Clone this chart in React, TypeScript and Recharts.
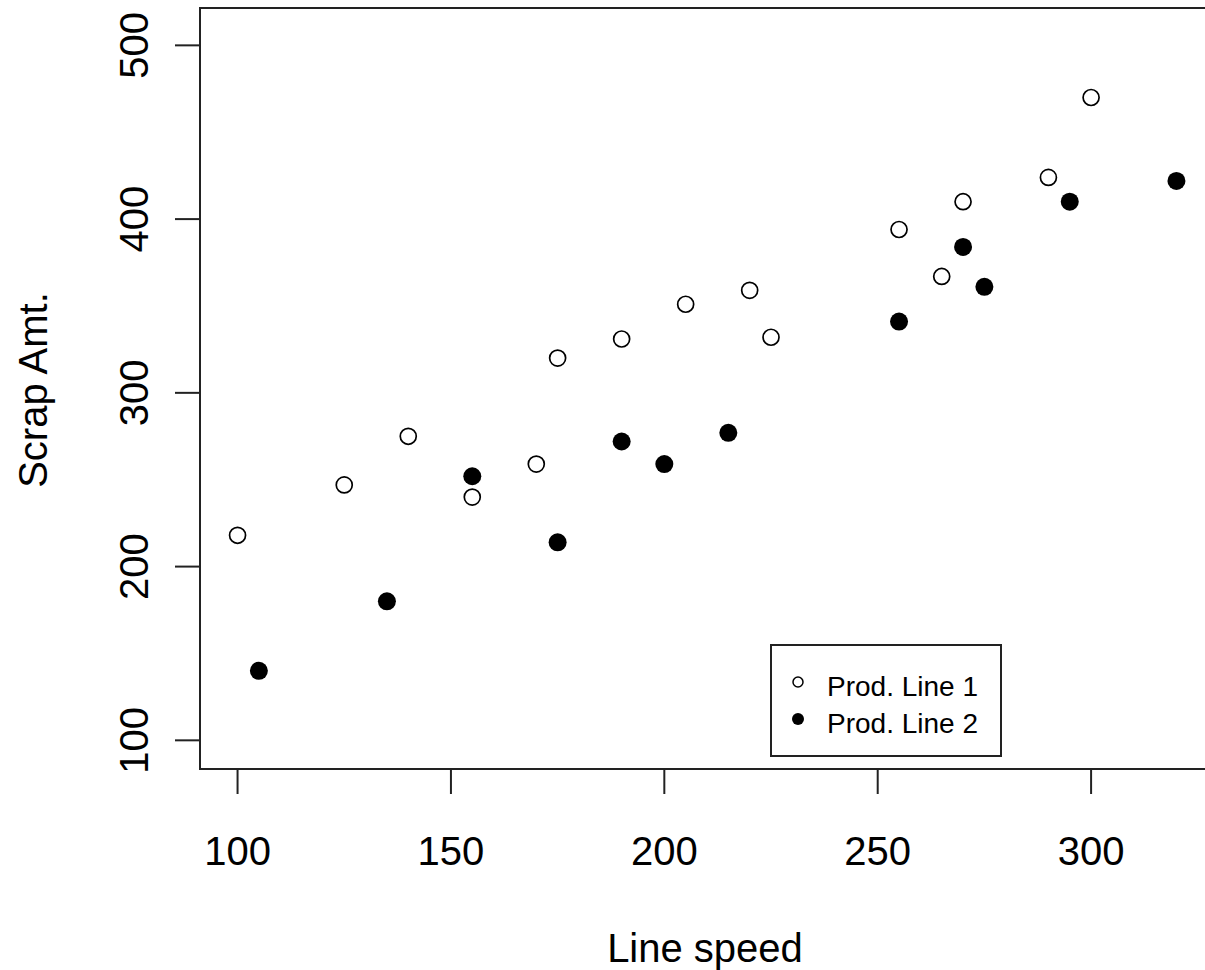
import React from "react"
import { ScatterChart, Scatter, XAxis, YAxis, ReferenceArea, Legend, Label } from "recharts"

// scrap amount vs line speed
const line1Speed = [100, 125, 140, 155, 170, 175, 190, 205, 220, 225, 255, 265, 270, 290, 300]
const line1Scrap = [218, 247, 275, 240, 259, 320, 331, 351, 359, 332, 394, 367, 410, 424, 470]
const line2Speed = [105, 135, 155, 175, 190, 200, 215, 255, 270, 275, 295, 320]
const line2Scrap = [140, 180, 252, 214, 272, 259, 277, 341, 384, 361, 410, 422]
const seriesNames = ["Prod. Line 1", "Prod. Line 2"]
const xTicks = [100, 150, 200, 250, 300]
const yTicks = [100, 200, 300, 400, 500]

const FONT = '"Liberation Sans", Arial, sans-serif'
const X_DOMAIN: [number, number] = [91.2, 328.8]
const Y_DOMAIN: [number, number] = [83.5, 521.5]

const line1Data = line1Speed.map((x, i) => ({ x, y: line1Scrap[i] }))
const line2Data = line2Speed.map((x, i) => ({ x, y: line2Scrap[i] }))

const XTick = ({ x, y, payload }: any) => (
  <text x={x} y={y + 71} textAnchor="middle" fontSize={40} fontFamily={FONT} fill="#000">
    {payload.value}
  </text>
)

const YTick = ({ x, y, payload }: any) => {
  const bx = x - 27
  return (
    <text
      x={bx}
      y={y}
      transform={`rotate(-90, ${bx}, ${y})`}
      textAnchor="middle"
      fontSize={40}
      fontFamily={FONT}
      fill="#000"
    >
      {payload.value}
    </text>
  )
}

const OpenDot = ({ cx, cy }: any) => (
  <circle cx={cx} cy={cy} r={8} fill="#fff" stroke="#000" strokeWidth={1.7} />
)
const FilledDot = ({ cx, cy }: any) => <circle cx={cx} cy={cy} r={9} fill="#000" />

const renderLegend = ({ payload }: any) => (
  <svg width={232} height={113}>
    <rect x={1} y={1} width={230} height={111} fill="#fff" stroke="#222" strokeWidth={2} />
    {(payload || []).map((entry: any, idx: number) => {
      const cy = 38 + idx * 37
      return (
        <g key={`leg-${idx}`}>
          {idx === 0 ? (
            <circle cx={28} cy={cy} r={5} fill="#fff" stroke="#000" strokeWidth={1.5} />
          ) : (
            <circle cx={28} cy={cy} r={6} fill="#000" />
          )}
          <text x={57} y={cy + 14} fontSize={28} fontFamily={FONT} fill="#000">
            {entry.value}
          </text>
        </g>
      )
    })}
  </svg>
)

export default function App() {
  return (
    <div
      style={{
        position: "absolute",
        left: 0,
        top: 0,
        width: 1205,
        height: 970,
        overflow: "hidden",
        background: "#fff",
      }}
    >
      <ScatterChart width={1230} height={970} margin={{ top: 8, right: 16, bottom: 0, left: 0 }}>
        <XAxis
          type="number"
          dataKey="x"
          domain={X_DOMAIN}
          ticks={xTicks}
          allowDataOverflow
          height={201}
          tickSize={25}
          tickMargin={0}
          axisLine={false}
          tickLine={{ stroke: "#222", strokeWidth: 2 }}
          tick={<XTick />}
        >
          <Label
            content={({ viewBox }: any) => (
              <text
                x={viewBox.x + viewBox.width / 2 - 2}
                y={viewBox.y + 193}
                textAnchor="middle"
                fontSize={40}
                fontFamily={FONT}
                fill="#000"
              >
                Line speed
              </text>
            )}
          />
        </XAxis>
        <YAxis
          type="number"
          dataKey="y"
          domain={Y_DOMAIN}
          ticks={yTicks}
          allowDataOverflow
          width={200}
          tickSize={25}
          tickMargin={0}
          axisLine={false}
          tickLine={{ stroke: "#222", strokeWidth: 2 }}
          tick={<YTick />}
        >
          <Label
            content={({ viewBox }: any) => {
              const lx = 47
              const ly = viewBox.y + viewBox.height / 2 + 1.5
              return (
                <text
                  x={lx}
                  y={ly}
                  transform={`rotate(-90, ${lx}, ${ly})`}
                  textAnchor="middle"
                  fontSize={40}
                  fontFamily={FONT}
                  fill="#000"
                >
                  Scrap Amt.
                </text>
              )
            }}
          />
        </YAxis>
        <ReferenceArea
          x1={X_DOMAIN[0]}
          x2={X_DOMAIN[1]}
          y1={Y_DOMAIN[0]}
          y2={Y_DOMAIN[1]}
          fill="none"
          stroke="#222"
          strokeWidth={2}
          ifOverflow="visible"
        />
        <Scatter
          name={seriesNames[0]}
          data={line1Data}
          shape={<OpenDot />}
          fill="#fff"
          isAnimationActive={false}
        />
        <Scatter
          name={seriesNames[1]}
          data={line2Data}
          shape={<FilledDot />}
          fill="#000"
          isAnimationActive={false}
        />
        <Legend
          layout="vertical"
          align="center"
          verticalAlign="middle"
          content={renderLegend}
          wrapperStyle={{ position: "absolute", left: 770, top: 644, width: 232, height: 113 }}
        />
      </ScatterChart>
    </div>
  )
}
